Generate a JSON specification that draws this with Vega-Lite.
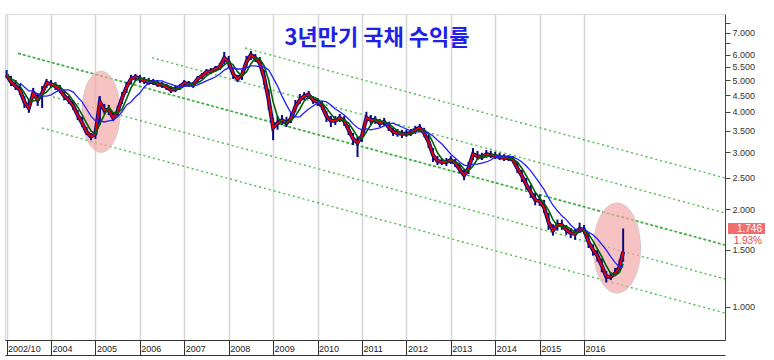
{
"$schema":"https://vega.github.io/schema/vega-lite/v6.json",
"width":720,"height":326,
"autosize":{"type":"none"},
"padding":{"left":5,"top":14,"right":49,"bottom":20},
"background":"white",
"config":{"view":{"stroke":"#d9d9d9"},"font":"Liberation Sans"},
"title":{"text":"3년만기 국채 수익률","font":"Noto Sans CJK KR","fontSize":22,"fontWeight":"bold","color":"#2020e8","anchor":"middle","offset":-36,"dx":12},
"datasets":{
"price":[
{"t":2003.0,"hi":5.38,"lo":5.09,"c":5.20,"m":5.20},
{"t":2003.1,"hi":5.16,"lo":4.80,"c":4.94,"m":5.05},
{"t":2003.2,"hi":5.01,"lo":4.67,"c":4.80,"m":4.98},
{"t":2003.3,"hi":4.87,"lo":4.51,"c":4.67,"m":4.80,"l":4.91},
{"t":2003.4,"hi":4.47,"lo":4.11,"c":4.29,"m":4.57,"l":4.77},
{"t":2003.5,"hi":4.35,"lo":3.97,"c":4.11,"m":4.35,"l":4.64},
{"t":2003.6,"hi":4.74,"lo":4.41,"c":4.57,"m":4.32,"l":4.64},
{"t":2003.7,"hi":4.57,"lo":4.17,"c":4.35,"m":4.35,"l":4.54},
{"t":2003.8,"hi":4.80,"lo":4.11,"c":4.57,"m":4.51,"l":4.47},
{"t":2003.9,"hi":5.05,"lo":4.74,"c":4.91,"m":4.60,"l":4.47},
{"t":2004.0,"hi":5.01,"lo":4.74,"c":4.87,"m":4.77,"l":4.51},
{"t":2004.1,"hi":4.94,"lo":4.67,"c":4.80,"m":4.87,"l":4.60},
{"t":2004.2,"hi":4.84,"lo":4.57,"c":4.67,"m":4.77,"l":4.67},
{"t":2004.3,"hi":4.64,"lo":4.35,"c":4.47,"m":4.64,"l":4.67},
{"t":2004.4,"hi":4.47,"lo":4.23,"c":4.35,"m":4.51,"l":4.67},
{"t":2004.5,"hi":4.35,"lo":4.05,"c":4.17,"m":4.32,"l":4.60},
{"t":2004.6,"hi":4.05,"lo":3.77,"c":3.91,"m":4.14,"l":4.44},
{"t":2004.7,"hi":3.86,"lo":3.59,"c":3.69,"m":3.91,"l":4.29},
{"t":2004.8,"hi":3.59,"lo":3.39,"c":3.47,"m":3.69,"l":4.08},
{"t":2004.9,"hi":3.44,"lo":3.27,"c":3.35,"m":3.49,"l":3.88},
{"t":2005.0,"hi":3.57,"lo":3.30,"c":3.42,"m":3.42,"l":3.75},
{"t":2005.1,"hi":4.47,"lo":3.64,"c":4.29,"m":3.67,"l":3.75},
{"t":2005.2,"hi":4.23,"lo":3.94,"c":4.05,"m":3.91,"l":3.72},
{"t":2005.3,"hi":4.20,"lo":3.91,"c":4.05,"m":4.14,"l":3.75},
{"t":2005.4,"hi":3.97,"lo":3.75,"c":3.83,"m":3.97,"l":3.77},
{"t":2005.5,"hi":4.17,"lo":3.88,"c":4.02,"m":3.97,"l":3.86},
{"t":2005.6,"hi":4.60,"lo":4.23,"c":4.41,"m":4.08,"l":4.00},
{"t":2005.7,"hi":4.94,"lo":4.57,"c":4.77,"m":4.38,"l":4.20},
{"t":2005.8,"hi":5.20,"lo":4.87,"c":5.05,"m":4.74,"l":4.29},
{"t":2005.9,"hi":5.23,"lo":4.98,"c":5.12,"m":4.98,"l":4.44},
{"t":2006.0,"hi":5.20,"lo":4.91,"c":5.05,"m":5.09,"l":4.57},
{"t":2006.1,"hi":5.12,"lo":4.87,"c":4.98,"m":5.05,"l":4.77},
{"t":2006.2,"hi":5.09,"lo":4.84,"c":4.94,"m":4.98,"l":4.91},
{"t":2006.3,"hi":5.05,"lo":4.84,"c":4.94,"m":4.94,"l":4.98},
{"t":2006.4,"hi":5.01,"lo":4.77,"c":4.87,"m":4.91,"l":4.98},
{"t":2006.5,"hi":4.94,"lo":4.74,"c":4.84,"m":4.87,"l":4.98},
{"t":2006.6,"hi":4.87,"lo":4.67,"c":4.77,"m":4.84,"l":4.91},
{"t":2006.7,"hi":4.80,"lo":4.57,"c":4.67,"m":4.77,"l":4.87},
{"t":2006.8,"hi":4.84,"lo":4.60,"c":4.70,"m":4.70,"l":4.80},
{"t":2006.9,"hi":4.87,"lo":4.67,"c":4.77,"m":4.70,"l":4.80},
{"t":2007.0,"hi":5.01,"lo":4.80,"c":4.91,"m":4.80,"l":4.80},
{"t":2007.1,"hi":4.98,"lo":4.77,"c":4.87,"m":4.84,"l":4.80},
{"t":2007.2,"hi":4.94,"lo":4.74,"c":4.84,"m":4.87,"l":4.80},
{"t":2007.3,"hi":5.16,"lo":4.94,"c":5.05,"m":4.91,"l":4.84},
{"t":2007.4,"hi":5.27,"lo":5.05,"c":5.16,"m":5.01,"l":4.91},
{"t":2007.5,"hi":5.42,"lo":5.20,"c":5.31,"m":5.16,"l":4.98},
{"t":2007.6,"hi":5.46,"lo":5.23,"c":5.34,"m":5.27,"l":5.05},
{"t":2007.7,"hi":5.54,"lo":5.31,"c":5.42,"m":5.34,"l":5.12},
{"t":2007.8,"hi":5.66,"lo":5.38,"c":5.50,"m":5.42,"l":5.23},
{"t":2007.9,"hi":6.12,"lo":5.62,"c":5.86,"m":5.58,"l":5.38},
{"t":2008.0,"hi":5.95,"lo":5.46,"c":5.70,"m":5.70,"l":5.46},
{"t":2008.1,"hi":5.46,"lo":5.05,"c":5.23,"m":5.58,"l":5.46},
{"t":2008.2,"hi":5.20,"lo":4.94,"c":5.05,"m":5.31,"l":5.42},
{"t":2008.3,"hi":5.38,"lo":5.01,"c":5.20,"m":5.16,"l":5.42},
{"t":2008.4,"hi":5.95,"lo":5.50,"c":5.70,"m":5.31,"l":5.46},
{"t":2008.5,"hi":6.16,"lo":5.78,"c":5.99,"m":5.62,"l":5.54},
{"t":2008.6,"hi":6.03,"lo":5.70,"c":5.86,"m":5.86,"l":5.54},
{"t":2008.7,"hi":5.90,"lo":5.54,"c":5.66,"m":5.82,"l":5.50},
{"t":2008.8,"hi":5.38,"lo":4.84,"c":5.09,"m":5.54,"l":5.50},
{"t":2008.9,"hi":4.67,"lo":4.05,"c":4.35,"m":5.01,"l":5.38},
{"t":2009.0,"hi":3.83,"lo":3.27,"c":3.57,"m":4.29,"l":5.09},
{"t":2009.1,"hi":3.88,"lo":3.52,"c":3.69,"m":3.86,"l":4.80},
{"t":2009.2,"hi":3.91,"lo":3.64,"c":3.77,"m":3.67,"l":4.47},
{"t":2009.3,"hi":3.86,"lo":3.59,"c":3.69,"m":3.72,"l":4.20},
{"t":2009.4,"hi":3.97,"lo":3.69,"c":3.80,"m":3.75,"l":3.97},
{"t":2009.5,"hi":4.35,"lo":4.00,"c":4.14,"m":3.88,"l":3.86},
{"t":2009.6,"hi":4.54,"lo":4.23,"c":4.35,"m":4.08,"l":3.86},
{"t":2009.7,"hi":4.60,"lo":4.35,"c":4.47,"m":4.32,"l":3.97},
{"t":2009.8,"hi":4.64,"lo":4.38,"c":4.51,"m":4.44,"l":4.08},
{"t":2009.9,"hi":4.47,"lo":4.23,"c":4.35,"m":4.44,"l":4.17},
{"t":2010.0,"hi":4.41,"lo":4.17,"c":4.29,"m":4.38,"l":4.26},
{"t":2010.1,"hi":4.32,"lo":4.05,"c":4.17,"m":4.26,"l":4.32},
{"t":2010.2,"hi":4.02,"lo":3.72,"c":3.88,"m":4.11,"l":4.29},
{"t":2010.3,"hi":3.88,"lo":3.59,"c":3.75,"m":3.94,"l":4.20},
{"t":2010.4,"hi":3.88,"lo":3.64,"c":3.75,"m":3.80,"l":4.08},
{"t":2010.5,"hi":3.94,"lo":3.72,"c":3.83,"m":3.77,"l":4.00},
{"t":2010.6,"hi":3.88,"lo":3.62,"c":3.75,"m":3.77,"l":3.91},
{"t":2010.7,"hi":3.64,"lo":3.39,"c":3.52,"m":3.69,"l":3.80},
{"t":2010.8,"hi":3.44,"lo":3.16,"c":3.30,"m":3.52,"l":3.67},
{"t":2010.9,"hi":3.35,"lo":2.90,"c":3.21,"m":3.35,"l":3.57},
{"t":2011.0,"hi":3.52,"lo":3.23,"c":3.37,"m":3.30,"l":3.52},
{"t":2011.1,"hi":4.00,"lo":3.69,"c":3.83,"m":3.47,"l":3.54},
{"t":2011.2,"hi":3.91,"lo":3.64,"c":3.77,"m":3.64,"l":3.52},
{"t":2011.3,"hi":3.88,"lo":3.67,"c":3.77,"m":3.80,"l":3.54},
{"t":2011.4,"hi":3.80,"lo":3.59,"c":3.69,"m":3.75,"l":3.57},
{"t":2011.5,"hi":3.83,"lo":3.62,"c":3.72,"m":3.72,"l":3.62},
{"t":2011.6,"hi":3.72,"lo":3.49,"c":3.59,"m":3.67,"l":3.67},
{"t":2011.7,"hi":3.57,"lo":3.37,"c":3.47,"m":3.59,"l":3.69},
{"t":2011.8,"hi":3.54,"lo":3.35,"c":3.44,"m":3.49,"l":3.64},
{"t":2011.9,"hi":3.52,"lo":3.32,"c":3.42,"m":3.44,"l":3.59},
{"t":2012.0,"hi":3.52,"lo":3.35,"c":3.42,"m":3.42,"l":3.54},
{"t":2012.1,"hi":3.54,"lo":3.37,"c":3.44,"m":3.42,"l":3.49},
{"t":2012.2,"hi":3.62,"lo":3.42,"c":3.52,"m":3.47,"l":3.47},
{"t":2012.3,"hi":3.67,"lo":3.47,"c":3.57,"m":3.52,"l":3.47},
{"t":2012.4,"hi":3.57,"lo":3.35,"c":3.44,"m":3.52,"l":3.47},
{"t":2012.5,"hi":3.39,"lo":3.09,"c":3.23,"m":3.42,"l":3.44},
{"t":2012.6,"hi":3.09,"lo":2.80,"c":2.94,"m":3.21,"l":3.37},
{"t":2012.7,"hi":2.92,"lo":2.74,"c":2.82,"m":2.99,"l":3.27},
{"t":2012.8,"hi":2.88,"lo":2.74,"c":2.80,"m":2.86,"l":3.18},
{"t":2012.9,"hi":2.88,"lo":2.72,"c":2.80,"m":2.80,"l":3.07},
{"t":2013.0,"hi":2.92,"lo":2.76,"c":2.84,"m":2.82,"l":2.96},
{"t":2013.1,"hi":2.86,"lo":2.70,"c":2.78,"m":2.80,"l":2.88},
{"t":2013.2,"hi":2.76,"lo":2.59,"c":2.66,"m":2.76,"l":2.80},
{"t":2013.3,"hi":2.65,"lo":2.46,"c":2.55,"m":2.66,"l":2.74},
{"t":2013.4,"hi":2.80,"lo":2.57,"c":2.68,"m":2.63,"l":2.72},
{"t":2013.5,"hi":3.09,"lo":2.84,"c":2.96,"m":2.72,"l":2.76},
{"t":2013.6,"hi":3.03,"lo":2.84,"c":2.92,"m":2.86,"l":2.76},
{"t":2013.7,"hi":2.99,"lo":2.84,"c":2.90,"m":2.92,"l":2.78},
{"t":2013.8,"hi":3.05,"lo":2.88,"c":2.96,"m":2.92,"l":2.80},
{"t":2013.9,"hi":3.03,"lo":2.88,"c":2.94,"m":2.94,"l":2.84},
{"t":2014.0,"hi":3.01,"lo":2.86,"c":2.92,"m":2.94,"l":2.90},
{"t":2014.1,"hi":2.99,"lo":2.84,"c":2.90,"m":2.92,"l":2.92},
{"t":2014.2,"hi":2.96,"lo":2.82,"c":2.88,"m":2.90,"l":2.92},
{"t":2014.3,"hi":2.94,"lo":2.82,"c":2.88,"m":2.88,"l":2.92},
{"t":2014.4,"hi":2.92,"lo":2.78,"c":2.84,"m":2.86,"l":2.90},
{"t":2014.5,"hi":2.80,"lo":2.59,"c":2.68,"m":2.80,"l":2.86},
{"t":2014.6,"hi":2.65,"lo":2.43,"c":2.54,"m":2.68,"l":2.80},
{"t":2014.7,"hi":2.50,"lo":2.30,"c":2.38,"m":2.54,"l":2.72},
{"t":2014.8,"hi":2.38,"lo":2.17,"c":2.26,"m":2.40,"l":2.63},
{"t":2014.9,"hi":2.25,"lo":2.06,"c":2.14,"m":2.26,"l":2.52},
{"t":2015.0,"hi":2.22,"lo":2.05,"c":2.12,"m":2.17,"l":2.41},
{"t":2015.1,"hi":2.14,"lo":1.95,"c":2.03,"m":2.09,"l":2.30},
{"t":2015.2,"hi":1.95,"lo":1.73,"c":1.83,"m":1.99,"l":2.17},
{"t":2015.3,"hi":1.80,"lo":1.66,"c":1.72,"m":1.86,"l":2.06},
{"t":2015.4,"hi":1.86,"lo":1.72,"c":1.79,"m":1.78,"l":1.98},
{"t":2015.5,"hi":1.86,"lo":1.73,"c":1.79,"m":1.77,"l":1.91},
{"t":2015.6,"hi":1.79,"lo":1.67,"c":1.73,"m":1.77,"l":1.86},
{"t":2015.7,"hi":1.75,"lo":1.63,"c":1.69,"m":1.74,"l":1.79},
{"t":2015.8,"hi":1.74,"lo":1.61,"c":1.68,"m":1.70,"l":1.74},
{"t":2015.9,"hi":1.82,"lo":1.69,"c":1.74,"m":1.70,"l":1.73},
{"t":2016.0,"hi":1.79,"lo":1.68,"c":1.73,"m":1.72,"l":1.74},
{"t":2016.1,"hi":1.70,"lo":1.52,"c":1.59,"m":1.68,"l":1.70},
{"t":2016.2,"hi":1.56,"lo":1.44,"c":1.50,"m":1.60,"l":1.67},
{"t":2016.3,"hi":1.50,"lo":1.38,"c":1.44,"m":1.51,"l":1.62},
{"t":2016.4,"hi":1.41,"lo":1.28,"c":1.34,"m":1.43,"l":1.56},
{"t":2016.5,"hi":1.29,"lo":1.19,"c":1.24,"m":1.34,"l":1.50},
{"t":2016.6,"hi":1.28,"lo":1.21,"c":1.24,"m":1.27,"l":1.43},
{"t":2016.7,"hi":1.32,"lo":1.25,"c":1.27,"m":1.25,"l":1.37},
{"t":2016.8,"hi":1.40,"lo":1.30,"c":1.33,"m":1.28,"l":1.33},
{"t":2016.88,"hi":1.746,"lo":1.38,"c":1.48,"m":1.36,"l":1.33}
],
"trend":[
{"id":"a","t":2003.257,"v":6.056},{"id":"a","t":2019.173,"v":1.553},
{"id":"b","t":2006.274,"v":5.874},{"id":"b","t":2019.173,"v":1.950},
{"id":"c","t":2008.367,"v":6.293},{"id":"c","t":2019.173,"v":2.500},
{"id":"d","t":2004.045,"v":4.444},{"id":"d","t":2019.173,"v":1.220},
{"id":"e","t":2003.797,"v":3.566},{"id":"e","t":2019.173,"v":0.958}
]
},
"layer":[
{"data":{"name":"trend"},"transform":[{"filter":"datum.id!='a'"}],
 "mark":{"type":"line","color":"#4dbd4d","strokeDash":[2,3],"strokeWidth":1.4},
 "encoding":{
  "x":{"field":"t","type":"quantitative","scale":{"domain":[2002.964,2019.173],"nice":false,"zero":false},
   "axis":{"values":[2003,2004,2005,2006,2007,2008,2009,2010,2011,2012,2013,2014,2015,2016],"labelExpr":"datum.value==2003?'2002/10':''+datum.value","grid":true,"gridColor":"#d4d4d4","gridWidth":1.5,"tickSize":15,"tickColor":"#333","domainColor":"#333","labelAlign":"left","labelBaseline":"middle","labelPadding":-7,"labelOffset":1,"labelFontSize":9,"labelColor":"#222","title":null,"labelFlush":false,"labelOverlap":false}},
  "y":{"field":"v","type":"quantitative","scale":{"type":"log","domain":[0.791,8.01],"nice":false,"zero":false},
   "axis":{"orient":"right","values":[1,1.5,2,2.5,3,3.5,4,4.5,5,5.5,6,6.5,7,7.5],"labelExpr":"datum.value==6.5||datum.value==7.5?'':format(datum.value,'.3f')","tickSize":5,"labelPadding":2,"labelFontSize":9,"labelColor":"#333","tickColor":"#444","domainColor":"#444","grid":false,"title":null}},
  "detail":{"field":"id"}}},
{"data":{"name":"trend"},"transform":[{"filter":"datum.id=='a'"}],
 "mark":{"type":"line","color":"#3aae3a","strokeDash":[3,2],"strokeWidth":1.7},
 "encoding":{"x":{"field":"t","type":"quantitative","axis":null},"y":{"field":"v","type":"quantitative"}}},
{"data":{"values":[{"t":2005.126,"v":4.0}]},
 "mark":{"type":"point","shape":"M0,-1C0.259,-1,0.469,-0.552,0.469,0C0.469,0.552,0.259,1,0,1C-0.259,1,-0.469,0.552,-0.469,0C-0.469,-0.552,-0.259,-1,0,-1Z","size":6561,"filled":true,"color":"#f4a8a8","fillOpacity":0.7,"stroke":"#d8c6c6","strokeWidth":1,"opacity":1},
 "encoding":{"x":{"field":"t","type":"quantitative","axis":null},"y":{"field":"v","type":"quantitative"}}},
{"data":{"values":[{"t":2016.742,"v":1.52}]},
 "mark":{"type":"point","shape":"M0,-1C0.288,-1,0.522,-0.552,0.522,0C0.522,0.552,0.288,1,0,1C-0.288,1,-0.522,0.552,-0.522,0C-0.522,-0.552,-0.288,-1,0,-1Z","size":8100,"filled":true,"color":"#f4a8a8","fillOpacity":0.7,"stroke":"#d8c6c6","strokeWidth":1,"opacity":1},
 "encoding":{"x":{"field":"t","type":"quantitative","axis":null},"y":{"field":"v","type":"quantitative"}}},
{"data":{"name":"price"},
 "mark":{"type":"line","color":"#0a0a80","strokeWidth":4},
 "encoding":{"x":{"field":"t","type":"quantitative","axis":null},"y":{"field":"c","type":"quantitative"}}},
{"data":{"name":"price"},
 "mark":{"type":"rule","color":"#0a0a80","strokeWidth":2},
 "encoding":{"x":{"field":"t","type":"quantitative","axis":{"orient":"bottom","offset":15,"ticks":false,"labels":false,"grid":false,"domain":true,"domainColor":"#333","title":null}},"y":{"field":"lo","type":"quantitative"},"y2":{"field":"hi"}}},
{"data":{"name":"price"},
 "mark":{"type":"line","color":"#ee0000","strokeWidth":1.8},
 "encoding":{"x":{"field":"t","type":"quantitative","axis":null},"y":{"field":"c","type":"quantitative"}}},
{"data":{"name":"price"},
 "mark":{"type":"line","color":"#006000","strokeWidth":1.6},
 "encoding":{"x":{"field":"t","type":"quantitative","axis":null},"y":{"field":"m","type":"quantitative"}}},
{"data":{"name":"price"},
 "mark":{"type":"line","color":"#2020ff","strokeWidth":1.3},
 "encoding":{"x":{"field":"t","type":"quantitative","axis":null},"y":{"field":"l","type":"quantitative"}}},
{"data":{"values":[{}]},
 "mark":{"type":"rect","color":"#f26e6e"},
 "encoding":{"x":{"datum":2019.241,"type":"quantitative","axis":null},"x2":{"datum":2020.074},"y":{"datum":1.816,"type":"quantitative"},"y2":{"datum":1.679}}},
{"data":{"values":[{}]},
 "mark":{"type":"text","text":"1.746","color":"white","fontSize":10,"align":"right","baseline":"middle"},
 "encoding":{"x":{"datum":2020.006,"type":"quantitative","axis":null},"y":{"datum":1.746,"type":"quantitative"}}},
{"data":{"values":[{}]},
 "mark":{"type":"text","text":"1.93%","color":"#e84848","fontSize":10,"align":"right","baseline":"middle"},
 "encoding":{"x":{"datum":2020.006,"type":"quantitative","axis":null},"y":{"datum":1.598,"type":"quantitative"}}}
],
"resolve":{"axis":{"x":"independent"}}
}
